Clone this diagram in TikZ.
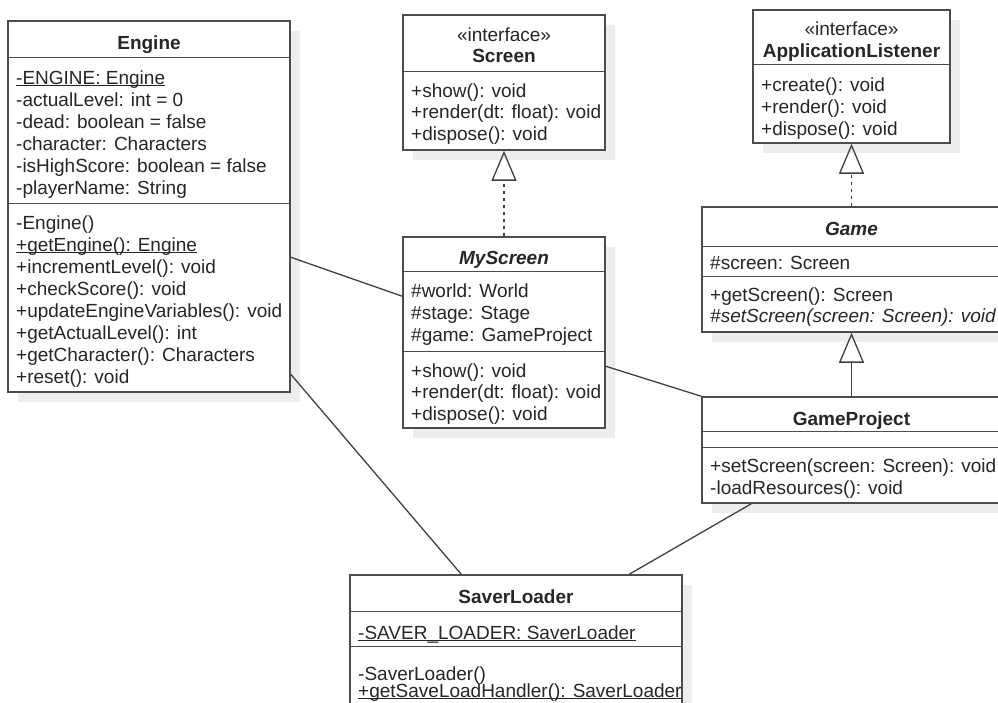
\documentclass[tikz,border=0pt]{standalone}
\usepackage{fontspec}
\setmainfont{Liberation Sans}
\usetikzlibrary{arrows.meta,shadows}

% static members: a thin rule just under the baseline
\newcommand\staticmember[1]{\setbox0\hbox{#1}\rlap{\rule[-2pt]{\wd0}{1.1pt}}\box0}

\begin{document}
\begin{tikzpicture}[x=1pt,y=-1pt,
  box/.style={rectangle, draw=black!70, line width=1.5pt, fill=white, inner sep=0pt,
    general shadow={fill=black!7, shadow xshift=10pt, shadow yshift=-10pt}},
  sep/.style={draw=black!70, line width=1.5pt},
  member/.style={anchor=base west, inner sep=0pt, font=\fontsize{19}{22}\selectfont, text=black!85},
  title/.style={anchor=base, inner sep=0pt, font=\fontsize{19}{22}\selectfont\bfseries, text=black!85},
  stereo/.style={anchor=base, inner sep=0pt, font=\fontsize{19}{22}\selectfont, text=black!85},
  assoc/.style={draw=black!75, line width=1.3pt},
  realize/.style={assoc, dash pattern=on 3pt off 4pt, -{Triangle[open, length=30pt, width=25pt]}},
  inherit/.style={assoc, -{Triangle[open, length=30pt, width=25pt]}}
]
\useasboundingbox (0,0) rectangle (998,702);

% ---------- class boxes ----------
\node[box, minimum width=282pt, minimum height=371pt] (engine) at (149,206.5) {};
\node[box, minimum width=202pt, minimum height=135pt] (screen) at (504,82.5) {};
\node[box, minimum width=202pt, minimum height=191pt] (myscreen) at (504,332.5) {};
\node[box, minimum width=197pt, minimum height=133pt] (applistener) at (851.5,76.5) {};
\node[box, minimum width=299pt, minimum height=125pt] (game) at (851.5,269.5) {};
\node[box, minimum width=299pt, minimum height=106pt] (gameproject) at (851.5,450) {};
\node[box, minimum width=332pt, minimum height=137pt] (saverloader) at (516,643.5) {};

% ---------- compartment separators ----------
\draw[sep] ([yshift=-37pt]engine.north west) -- ([yshift=-37pt]engine.north east);
\draw[sep] ([yshift=-183pt]engine.north west) -- ([yshift=-183pt]engine.north east);
\draw[sep] ([yshift=-57pt]screen.north west) -- ([yshift=-57pt]screen.north east);
\draw[sep] ([yshift=-35pt]myscreen.north west) -- ([yshift=-35pt]myscreen.north east);
\draw[sep] ([yshift=-115pt]myscreen.north west) -- ([yshift=-115pt]myscreen.north east);
\draw[sep] ([yshift=-55pt]applistener.north west) -- ([yshift=-55pt]applistener.north east);
\draw[sep] ([yshift=-40pt]game.north west) -- ([yshift=-40pt]game.north east);
\draw[sep] ([yshift=-70pt]game.north west) -- ([yshift=-70pt]game.north east);
\draw[sep] ([yshift=-35pt]gameproject.north west) -- ([yshift=-35pt]gameproject.north east);
\draw[sep] ([yshift=-51pt]gameproject.north west) -- ([yshift=-51pt]gameproject.north east);
\draw[sep] ([yshift=-37pt]saverloader.north west) -- ([yshift=-37pt]saverloader.north east);
\draw[sep] ([yshift=-72pt]saverloader.north west) -- ([yshift=-72pt]saverloader.north east);

% ---------- Engine ----------
\node[title] (engine-t) at (149,49) {Engine};
\foreach \t [count=\i] in {\staticmember{-ENGINE: Engine}, -actualLevel: int = 0,
    -dead: boolean = false, -character: Characters,
    -isHighScore: boolean = false, -playerName: String}
  \node[member] (engine-a\i) at (16,{84+22*(\i-1)}) {\t};
\foreach \t [count=\i] in {-Engine(), \staticmember{+getEngine(): Engine},
    +incrementLevel(): void, +checkScore(): void,
    +updateEngineVariables(): void, +getActualLevel(): int,
    +getCharacter(): Characters, +reset(): void}
  \node[member] (engine-m\i) at (16,{229+22*(\i-1)}) {\t};

% ---------- Screen ----------
\node[stereo] (screen-s) at (504,41) {«interface»};
\node[title] (screen-t) at (504,62) {Screen};
\foreach \t [count=\i] in {+show(): void, +render(dt: float): void, +dispose(): void}
  \node[member] (screen-m\i) at (411,{97+21.5*(\i-1)}) {\t};

% ---------- MyScreen ----------
\node[title, font=\fontsize{19}{22}\selectfont\bfseries\itshape] (myscreen-t) at (504,264) {MyScreen};
\foreach \t [count=\i] in {\#world: World, \#stage: Stage, \#game: GameProject}
  \node[member] (myscreen-a\i) at (411,{297+22*(\i-1)}) {\t};
\foreach \t [count=\i] in {+show(): void, +render(dt: float): void, +dispose(): void}
  \node[member] (myscreen-m\i) at (411,{377+21.5*(\i-1)}) {\t};

% ---------- ApplicationListener ----------
\node[stereo] (applistener-s) at (851.5,35) {«interface»};
\node[title] (applistener-t) at (851.5,57) {ApplicationListener};
\foreach \t [count=\i] in {+create(): void, +render(): void, +dispose(): void}
  \node[member] (applistener-m\i) at (761,{91+22*(\i-1)}) {\t};

% ---------- Game ----------
\node[title, font=\fontsize{19}{22}\selectfont\bfseries\itshape] (game-t) at (851.5,235) {Game};
\node[member] (game-a1) at (710,269) {\#screen: Screen};
\node[member] (game-m1) at (710,301) {+getScreen(): Screen};
\node[member, font=\fontsize{19}{22}\selectfont\itshape] (game-m2) at (710,322) {\#setScreen(screen: Screen): void};

% ---------- GameProject ----------
\node[title] (gameproject-t) at (851.5,425) {GameProject};
\node[member] (gameproject-m1) at (710,472) {+setScreen(screen: Screen): void};
\node[member] (gameproject-m2) at (710,494) {-loadResources(): void};

% ---------- SaverLoader ----------
\node[title] (saverloader-t) at (516,603) {SaverLoader};
\node[member] (saverloader-a1) at (358,639) {\staticmember{-SAVER\_LOADER: SaverLoader}};
\node[member] (saverloader-m1) at (358,680) {-SaverLoader()};
\node[member] (saverloader-m2) at (358,697) {\staticmember{+getSaveLoadHandler(): SaverLoader}};

% ---------- relations ----------
\draw[realize] (myscreen.north) -- (screen.south);
\draw[realize] (game.north) -- (applistener.south);
\draw[inherit] (gameproject.north) -- (game.south);

\draw[assoc] ([yshift=-237pt]engine.north east) -- ([yshift=-60pt]myscreen.north west);
\draw[assoc] ([yshift=-354pt]engine.north east) -- ([xshift=112pt]saverloader.north west);
\draw[assoc] ([yshift=-130pt]myscreen.north east) -- (gameproject.north west);
\draw[assoc] ([xshift=50pt]gameproject.south west) -- ([xshift=280pt]saverloader.north west);
\end{tikzpicture}
\end{document}
